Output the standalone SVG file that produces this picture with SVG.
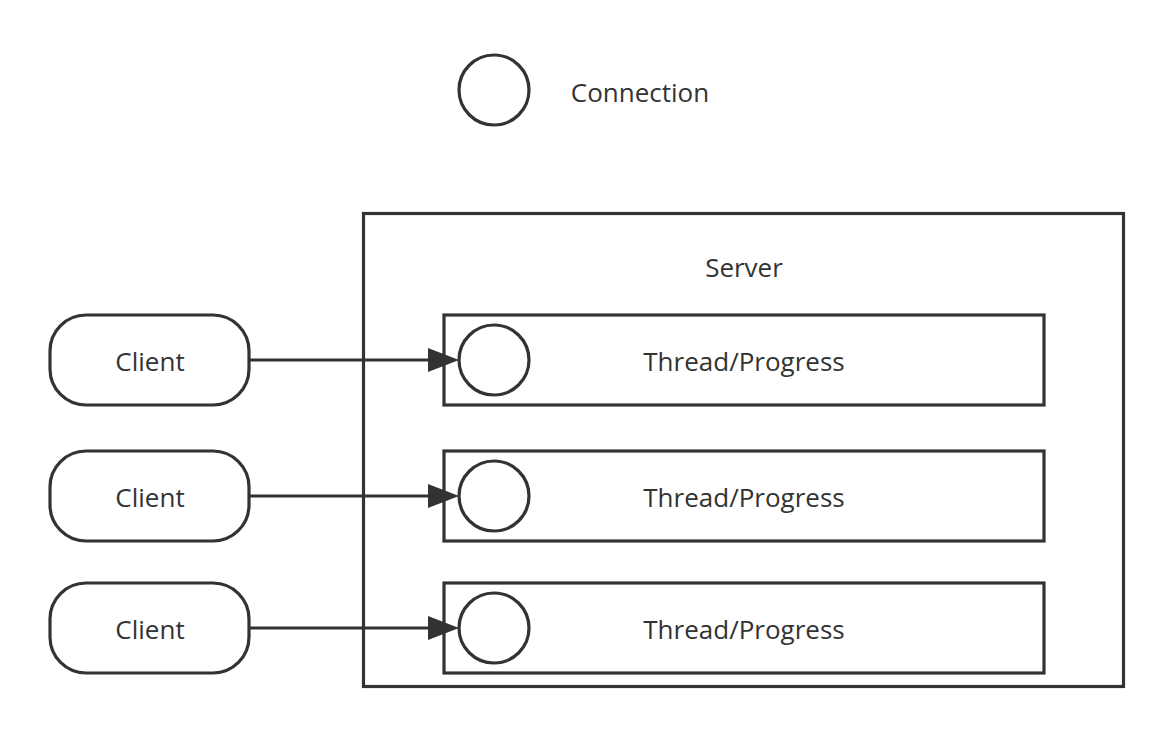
<svg xmlns="http://www.w3.org/2000/svg" width="1174" height="737" viewBox="0 0 1174 737">
<defs>
<style>
.s{fill:#fff;stroke:#333;stroke-width:3.2}
.t{font-family:"Open Sans","Noto Sans","DejaVu Sans",sans-serif;font-size:26px;fill:#333;text-anchor:middle;dominant-baseline:central}
.c{fill:none;stroke:#333;stroke-width:3.2}
</style>
</defs>
<rect width="1174" height="737" fill="#fff"/>
<g id="legend">
<circle class="s" cx="494" cy="90" r="35"/>
<text class="t" x="640" y="92">Connection</text>
</g>
<g id="server">
<rect class="s" x="363.5" y="213.5" width="760" height="473"/>
<text class="t" x="744" y="267">Server</text>
</g>
<g id="thread1">
<rect class="s" x="444" y="315" width="600" height="90"/>
<circle class="s" cx="494" cy="360" r="35"/>
<text class="t" x="744" y="361">Thread/Progress</text>
</g>
<g id="thread2">
<rect class="s" x="444" y="451" width="600" height="90"/>
<circle class="s" cx="494" cy="496" r="35"/>
<text class="t" x="744" y="497">Thread/Progress</text>
</g>
<g id="thread3">
<rect class="s" x="444" y="583" width="600" height="90"/>
<circle class="s" cx="494" cy="628" r="35"/>
<text class="t" x="744" y="629">Thread/Progress</text>
</g>
<g id="client1">
<rect class="s" x="50" y="315" width="199" height="90" rx="36" ry="36"/>
<text class="t" x="150" y="361">Client</text>
</g>
<g id="client2">
<rect class="s" x="50" y="451" width="199" height="90" rx="36" ry="36"/>
<text class="t" x="150" y="497">Client</text>
</g>
<g id="client3">
<rect class="s" x="50" y="583" width="199" height="90" rx="36" ry="36"/>
<text class="t" x="150" y="629">Client</text>
</g>
<g id="connectors">
<line class="c" x1="249" y1="360" x2="430" y2="360"/>
<path d="M428,348 L459,360 L428,372 z" fill="#333"/>
<line class="c" x1="249" y1="496" x2="430" y2="496"/>
<path d="M428,484 L459,496 L428,508 z" fill="#333"/>
<line class="c" x1="249" y1="628" x2="430" y2="628"/>
<path d="M428,616 L459,628 L428,640 z" fill="#333"/>
</g>
</svg>
